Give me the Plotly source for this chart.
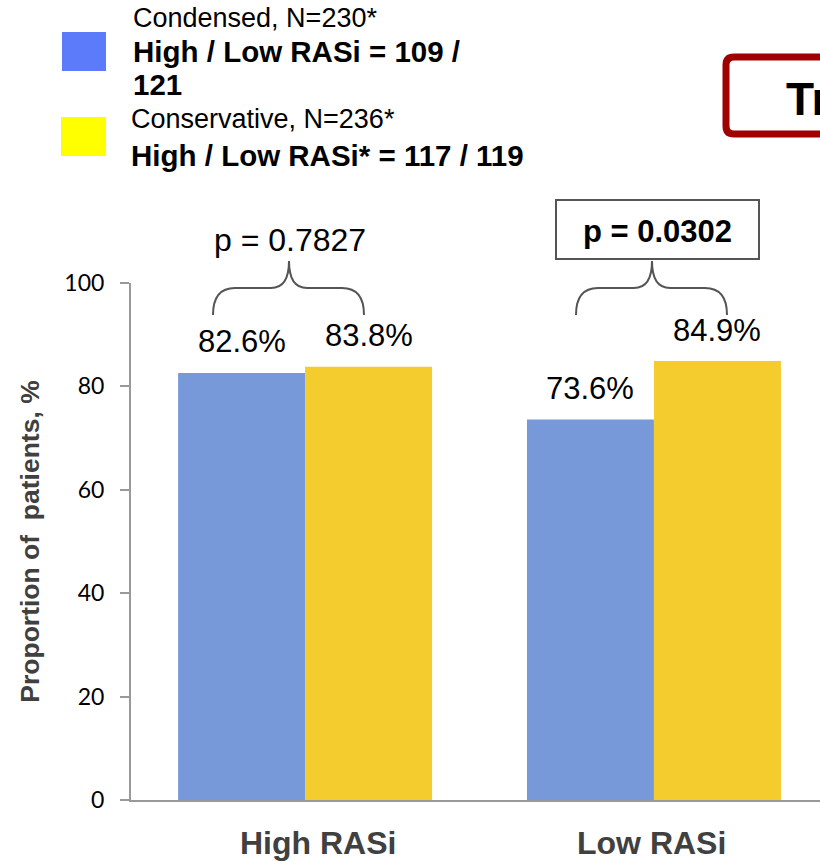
import plotly.graph_objects as go

categories = ["High RASi", "Low RASi"]
condensed = [82.6, 73.6]
conservative = [83.8, 84.9]
y_ticks = [0, 20, 40, 60, 80, 100]
p_values = ["p = 0.7827", "p = 0.0302"]
legend_lines = {
    "Condensed": ["Condensed, N=230*", "<b>High / Low RASi = 109 /</b>", "<b>121</b>"],
    "Conservative": ["Conservative, N=236*", "<b>High / Low RASi* = 117 / 119</b>"],
}

W, H = 820, 861
L, R, T, B = 131, 0, 283, 61
PW, PH = W - L - R, H - T - B


def px(x):
    return (x - L) / PW


def py(y):
    return (H - B - y) / PH


BLUE = "#7799d9"
YELLOW = "#f4cc2e"
FONT = "Liberation Sans, Arial, sans-serif"

fig = go.Figure()
fig.add_trace(go.Bar(x=categories, y=condensed, name="Condensed", marker_color=BLUE,
                     marker_line_width=0, showlegend=False))
fig.add_trace(go.Bar(x=categories, y=conservative, name="Conservative", marker_color=YELLOW,
                     marker_line_width=0, showlegend=False))

bargap = 0.272
half = (1 - bargap) / 4
annotations = []
for i, (a, b) in enumerate(zip(condensed, conservative)):
    for off, v in ((-half, a), (half, b)):
        annotations.append(dict(x=i + off, y=v, xref="x", yref="y", text=f"{v:.1f}%",
                                showarrow=False, xanchor="center", yanchor="middle", yshift=31,
                                font=dict(family=FONT, size=31, color="black")))

# category labels
for i, (cat, xs) in enumerate(zip(categories, (13, -2))):
    annotations.append(dict(x=i, y=0, xref="x", yref="y", text=f"<b>{cat}</b>",
                            showarrow=False, xanchor="center", yanchor="middle",
                            xshift=xs, yshift=-43,
                            font=dict(family=FONT, size=32, color="#404040")))

shapes = []
# braces
for cx in (289, 652):
    x0, x1 = cx - 76, cx + 75
    yb, yh, yt = 315, 288, 261
    path = (f"M {px(x0)},{py(yb)} Q {px(x0)},{py(yh)} {px(x0+22)},{py(yh)} "
            f"L {px(cx-18)},{py(yh)} Q {px(cx)},{py(yh)} {px(cx)},{py(yt)} "
            f"Q {px(cx)},{py(yh)} {px(cx+18)},{py(yh)} "
            f"L {px(x1-22)},{py(yh)} Q {px(x1)},{py(yh)} {px(x1)},{py(yb)}")
    shapes.append(dict(type="path", xref="paper", yref="paper", path=path,
                       line=dict(color="#555555", width=2)))

annotations.append(dict(x=px(290), y=py(240), xref="paper", yref="paper", text=p_values[0],
                        showarrow=False, xanchor="center", yanchor="middle",
                        font=dict(family=FONT, size=32, color="black")))
shapes.append(dict(type="rect", xref="paper", yref="paper", x0=px(556), x1=px(759),
                   y0=py(259), y1=py(200), line=dict(color="#555555", width=2)))
annotations.append(dict(x=px(657), y=py(231), xref="paper", yref="paper",
                        text=f"<b>{p_values[1]}</b>", showarrow=False,
                        xanchor="center", yanchor="middle",
                        font=dict(family=FONT, size=31, color="black")))

# red box (cropped at the right edge, as in the reference)
r = 8
x0b, x1b, y0b, y1b = 726, 850, 57, 134
rb = (f"M {px(x0b+r)},{py(y0b)} L {px(x1b)},{py(y0b)} L {px(x1b)},{py(y1b)} "
      f"L {px(x0b+r)},{py(y1b)} Q {px(x0b)},{py(y1b)} {px(x0b)},{py(y1b-r)} "
      f"L {px(x0b)},{py(y0b+r)} Q {px(x0b)},{py(y0b)} {px(x0b+r)},{py(y0b)} Z")
shapes.append(dict(type="path", xref="paper", yref="paper", path=rb,
                   line=dict(color="#a00000", width=7)))
annotations.append(dict(x=px(784), y=py(99), xref="paper", yref="paper", text="<b>Tr</b>",
                        showarrow=False, xanchor="left", yanchor="middle",
                        font=dict(family=FONT, size=46, color="black")))

# legend
shapes.append(dict(type="rect", xref="paper", yref="paper", x0=px(62), x1=px(106),
                   y0=py(71), y1=py(32), fillcolor="#5b7bfa", line=dict(width=0)))
shapes.append(dict(type="rect", xref="paper", yref="paper", x0=px(61), x1=px(106),
                   y0=py(156), y1=py(117), fillcolor="#ffff00", line=dict(width=0)))
for txt, yy in zip(legend_lines["Condensed"], (18, 51, 85)):
    annotations.append(dict(x=px(131), y=py(yy), xref="paper", yref="paper", text=txt,
                            showarrow=False, xanchor="left", yanchor="middle",
                            font=dict(family=FONT, size=29.5 if txt.startswith("<b>") else 27,
                                      color="black")))
for txt, yy in zip(legend_lines["Conservative"], (119, 155)):
    annotations.append(dict(x=px(129), y=py(yy), xref="paper", yref="paper", text=txt,
                            showarrow=False, xanchor="left", yanchor="middle",
                            font=dict(family=FONT, size=29.5 if txt.startswith("<b>") else 27,
                                      color="black")))

fig.update_layout(
    width=W, height=H, margin=dict(l=L, r=R, t=T, b=B, autoexpand=False),
    paper_bgcolor="white", plot_bgcolor="white",
    barmode="group", bargap=bargap, bargroupgap=0,
    shapes=shapes, annotations=annotations,
    xaxis=dict(type="category", range=[-0.499, 1.476], showline=True, linecolor="#999999",
               linewidth=2, ticks="", showgrid=False, zeroline=False,
               showticklabels=False),
    yaxis=dict(range=[0, 100], tickvals=y_ticks, showline=True, linecolor="#999999",
               linewidth=2, ticks="outside", ticklen=9, tickcolor="#999999", tickwidth=2,
               showgrid=False, zeroline=False, ticklabelstandoff=11,
               tickfont=dict(family="Lato, Carlito, sans-serif", size=23, color="black"),
               title=dict(text="<b>Proportion of  patients, %</b>", standoff=17,
                          font=dict(family=FONT, size=26.5, color="#404040"))),
)

fig.write_html("out.html")
